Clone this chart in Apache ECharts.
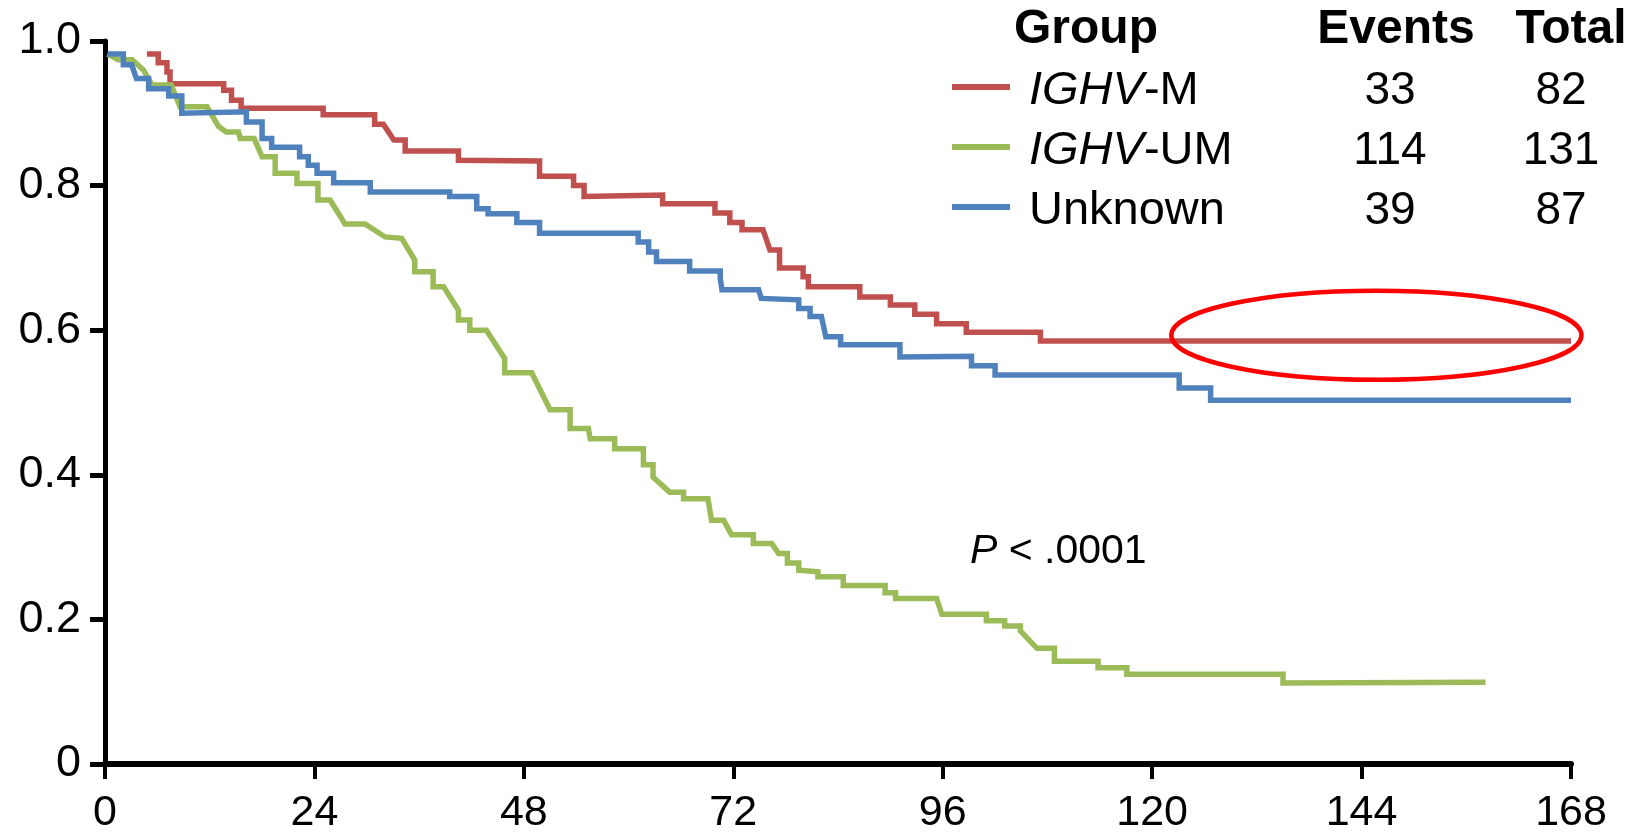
<!DOCTYPE html>
<html>
<head>
<meta charset="utf-8">
<script src="https://cdn.jsdelivr.net/npm/echarts@6/dist/echarts.min.js"></script>
<style>
  html, body { margin: 0; padding: 0; background: #fff; }
  #chart { width: 1649px; height: 835px; }
</style>
</head>
<body>
<div id="chart"></div>
<script>
// Kaplan–Meier curves: [month, survival probability]
const ighvM = [
  [4.8, 0.982], [6.1, 0.982], [6.1, 0.970], [7.1, 0.970], [7.1, 0.957], [7.45, 0.957], [7.45, 0.941],
  [13.6, 0.941], [13.6, 0.932], [14.5, 0.932], [14.5, 0.918], [15.6, 0.918], [15.6, 0.907],
  [25.0, 0.907], [25.0, 0.898], [30.9, 0.898], [30.9, 0.885], [31.9, 0.885], [33.1, 0.863],
  [34.4, 0.863], [34.4, 0.848], [40.5, 0.848], [40.5, 0.835], [49.8, 0.834], [49.8, 0.813],
  [53.7, 0.813], [53.7, 0.800], [54.9, 0.800], [54.9, 0.785], [63.9, 0.787], [63.9, 0.775],
  [69.9, 0.775], [69.9, 0.762], [71.6, 0.762], [71.6, 0.749], [73.0, 0.749], [73.0, 0.739],
  [75.4, 0.739], [76.2, 0.711], [77.3, 0.711], [77.3, 0.686], [80.0, 0.686], [80.0, 0.674],
  [80.6, 0.674], [80.6, 0.660], [86.5, 0.660], [86.5, 0.646], [90.0, 0.646], [90.0, 0.635],
  [92.8, 0.635], [92.8, 0.622], [95.3, 0.622], [95.3, 0.609], [98.7, 0.609], [98.7, 0.597],
  [107.2, 0.597], [107.2, 0.585], [168, 0.585]
];
const ighvUM = [
  [0.3, 0.982], [1.5, 0.974], [3.1, 0.974], [4.4, 0.960], [5.4, 0.939], [7.6, 0.939], [8.6, 0.909],
  [11.7, 0.909], [13.0, 0.882], [13.9, 0.874], [15.3, 0.874], [15.5, 0.865], [17.1, 0.865],
  [18.0, 0.840], [19.5, 0.840], [19.5, 0.817], [22.0, 0.817], [22.0, 0.803], [24.4, 0.803],
  [24.4, 0.780], [25.8, 0.780], [27.5, 0.747], [29.8, 0.747], [32.1, 0.729], [34.0, 0.727],
  [35.5, 0.697], [35.5, 0.681], [37.6, 0.681], [37.6, 0.660], [38.8, 0.660], [40.5, 0.628],
  [40.5, 0.614], [41.8, 0.614], [41.8, 0.600], [43.7, 0.600], [45.8, 0.561], [45.8, 0.541],
  [48.9, 0.541], [51.0, 0.490], [53.3, 0.490], [53.3, 0.464], [55.4, 0.464], [55.6, 0.450],
  [58.4, 0.450], [58.4, 0.436], [61.7, 0.436], [61.7, 0.414], [62.8, 0.414], [62.8, 0.397],
  [64.7, 0.376], [66.3, 0.376], [66.3, 0.367], [69.1, 0.367], [69.5, 0.337], [70.9, 0.337],
  [71.8, 0.317], [74.3, 0.317], [74.3, 0.305], [76.4, 0.305], [77.2, 0.291], [78.2, 0.291],
  [78.2, 0.278], [79.5, 0.278], [79.5, 0.268], [81.7, 0.266], [81.7, 0.259], [84.6, 0.259],
  [84.6, 0.247], [89.4, 0.247], [89.4, 0.237], [90.6, 0.237], [90.6, 0.229], [95.3, 0.229],
  [95.9, 0.207], [101.0, 0.207], [101.0, 0.198], [103.1, 0.198], [103.1, 0.191], [104.9, 0.191],
  [104.9, 0.184], [106.8, 0.160], [108.8, 0.160], [108.8, 0.142], [113.8, 0.142], [113.8, 0.133],
  [117.1, 0.133], [117.1, 0.124], [135.0, 0.124], [135.0, 0.112], [158.2, 0.113]
];
const unknownGroup = [
  [0.3, 0.982], [2.1, 0.982], [2.1, 0.967], [3.06, 0.967], [3.6, 0.948], [5.0, 0.948], [5.0, 0.934],
  [7.3, 0.934], [7.3, 0.924], [8.8, 0.924], [8.8, 0.900], [16.2, 0.902], [16.2, 0.888],
  [18.0, 0.888], [18.0, 0.865], [19.1, 0.865], [19.1, 0.853], [22.3, 0.853], [22.3, 0.840],
  [23.3, 0.840], [23.3, 0.828], [24.3, 0.828], [24.3, 0.817], [26.2, 0.817], [26.2, 0.804],
  [30.4, 0.804], [30.4, 0.791], [39.5, 0.791], [39.5, 0.785], [42.6, 0.785], [42.6, 0.768],
  [43.9, 0.768], [43.9, 0.761], [47.2, 0.761], [47.2, 0.749], [49.8, 0.749], [49.8, 0.734],
  [61.1, 0.734], [61.1, 0.722], [62.3, 0.722], [62.3, 0.708], [63.2, 0.708], [63.2, 0.695],
  [67.0, 0.695], [67.0, 0.682], [70.5, 0.682], [70.5, 0.672], [70.7, 0.672], [70.7, 0.656],
  [74.9, 0.656], [75.2, 0.644], [79.5, 0.642], [79.5, 0.630], [80.8, 0.630], [80.8, 0.619],
  [82.1, 0.619], [82.6, 0.591], [84.3, 0.591], [84.3, 0.580], [91.1, 0.580], [91.1, 0.563],
  [99.3, 0.564], [99.3, 0.551], [102.0, 0.551], [102.0, 0.538], [123.1, 0.538], [123.1, 0.520],
  [126.7, 0.520], [126.7, 0.503], [168, 0.503]
];

// Summary table
const groupLabels = ['{i|IGHV}-M', '{i|IGHV}-UM', 'Unknown'];
const eventCounts = [33, 114, 39];
const totalCounts = [82, 131, 87];
const groupColors = ['#C0504D', '#9BBB59', '#4F81BD'];

// Axis scales
const monthMax = 168, monthStep = 24;
const survMax = 1, survStep = 0.2;

// Highlighted plateau of the IGHV-M curve: center and half-extents in data units
const plateauCenter = [145.7, 0.593];
const plateauRadius = [23.5, 0.0617];

const FONT = '"Liberation Sans", Arial, Helvetica, sans-serif';

const chart = echarts.init(document.getElementById('chart'), null, { renderer: 'canvas' });

function curve(name, data, color) {
  return {
    name, type: 'line', data,
    showSymbol: false, symbol: 'none', smooth: false,
    lineStyle: { color, width: 5.5, cap: 'butt', join: 'miter' },
    z: 3
  };
}

chart.setOption({
  animation: false,
  backgroundColor: '#fff',
  grid: { left: 105, right: 78, top: 41, bottom: 71, containLabel: false },
  xAxis: {
    type: 'value', min: 0, max: monthMax, interval: monthStep,
    axisLine: { show: true, onZero: false, lineStyle: { color: '#000', width: 6 } },
    axisTick: { show: true, length: 15, lineStyle: { color: '#000', width: 4 } },
    splitLine: { show: false },
    axisLabel: { color: '#000', fontSize: 43, fontFamily: FONT, margin: 28 }
  },
  yAxis: {
    type: 'value', min: 0, max: survMax, interval: survStep,
    axisLine: { show: true, onZero: false, lineStyle: { color: '#000', width: 5 } },
    axisTick: { show: true, length: 15, lineStyle: { color: '#000', width: 5 } },
    splitLine: { show: false },
    axisLabel: {
      color: '#000', fontSize: 45, fontFamily: FONT, margin: 24,
      formatter: v => (v === 0 ? '0' : v.toFixed(1))
    }
  },
  series: [
    curve('IGHV-M', ighvM, groupColors[0]),
    curve('IGHV-UM', ighvUM, groupColors[1]),
    curve('Unknown', unknownGroup, groupColors[2])
  ]
});

// Table-style legend, p-value note and the plateau ellipse
const rowY = [91, 151, 211];
const gfx = [];
const header = (text, x, align) => ({
  type: 'text', x, y: 30, z: 10,
  style: { text, font: `bold 48px ${FONT}`, fill: '#000', textAlign: align, textVerticalAlign: 'middle' }
});
gfx.push(header('Group', 1014, 'left'));
gfx.push(header('Events', 1396, 'center'));
gfx.push(header('Total', 1571, 'center'));

groupLabels.forEach((label, i) => {
  const y = rowY[i];
  gfx.push({
    type: 'line', z: 10,
    shape: { x1: 952, y1: y - 4, x2: 1010, y2: y - 4 },
    style: { stroke: groupColors[i], lineWidth: 6 }
  });
  gfx.push({
    type: 'text', x: 1029, y, z: 10,
    style: {
      text: label, font: `47px ${FONT}`, fill: '#000',
      textAlign: 'left', textVerticalAlign: 'middle',
      rich: { i: { fontStyle: 'italic', fontSize: 47, fontFamily: FONT, fill: '#000' } }
    }
  });
  gfx.push({
    type: 'text', x: 1390, y, z: 10,
    style: { text: String(eventCounts[i]), font: `46px ${FONT}`, fill: '#000', textAlign: 'center', textVerticalAlign: 'middle' }
  });
  gfx.push({
    type: 'text', x: 1561, y, z: 10,
    style: { text: String(totalCounts[i]), font: `46px ${FONT}`, fill: '#000', textAlign: 'center', textVerticalAlign: 'middle' }
  });
});

gfx.push({
  type: 'text', x: 970, y: 552, z: 10,
  style: {
    text: '{i|P} < .0001', font: `41px ${FONT}`, fill: '#000',
    textAlign: 'left', textVerticalAlign: 'middle',
    rich: { i: { fontStyle: 'italic', fontSize: 41, fontFamily: FONT, fill: '#000' } }
  }
});

const c = chart.convertToPixel({ gridIndex: 0 }, plateauCenter);
const e = chart.convertToPixel({ gridIndex: 0 }, [plateauCenter[0] + plateauRadius[0], plateauCenter[1] + plateauRadius[1]]);
gfx.push({
  type: 'ellipse', z: 20,
  shape: { cx: c[0], cy: c[1], rx: Math.abs(e[0] - c[0]), ry: Math.abs(e[1] - c[1]) },
  style: { fill: 'none', stroke: '#FF0000', lineWidth: 4.5 }
});

chart.setOption({ graphic: gfx });
</script>
</body>
</html>
